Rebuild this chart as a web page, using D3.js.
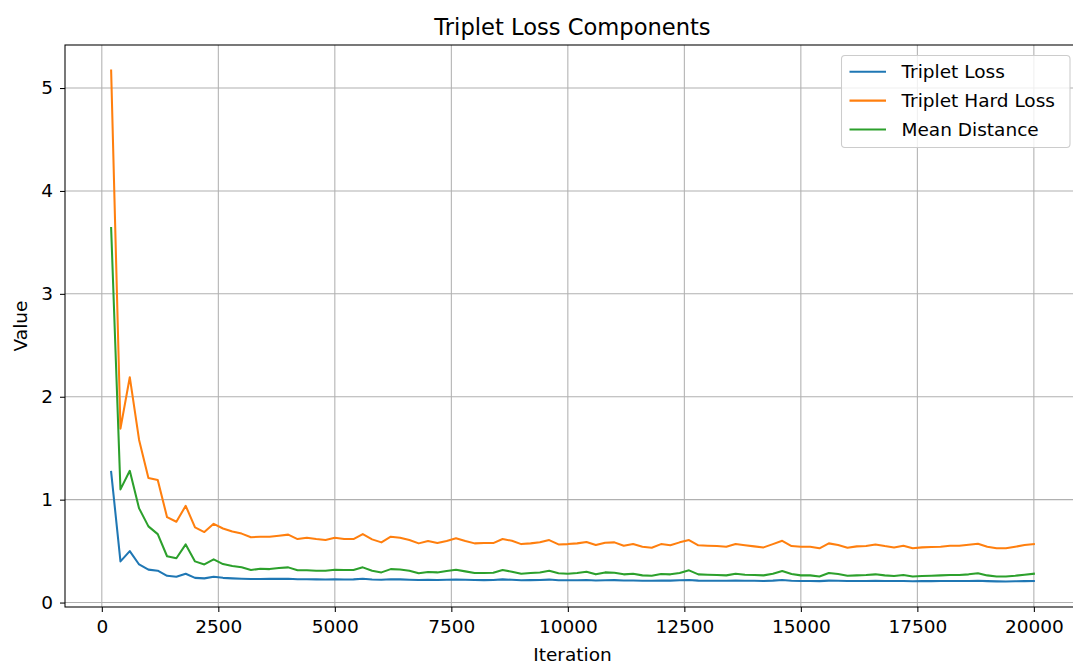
<!DOCTYPE html>
<html>
<head>
<meta charset="utf-8">
<script src="https://cdn.jsdelivr.net/npm/d3@7"></script>
<style>
  html, body { margin: 0; padding: 0; background: #fff; }
  svg { display: block; font-family: "DejaVu Sans", sans-serif; }
</style>
</head>
<body>
<svg id="chart" width="1073" height="664"></svg>
<script>
// Training iterations (logged every 200 steps)
const iterations = [
  200, 400, 600, 800, 1000, 1200, 1400, 1600, 1800, 2000,
  2200, 2400, 2600, 2800, 3000, 3200, 3400, 3600, 3800, 4000,
  4200, 4400, 4600, 4800, 5000, 5200, 5400, 5600, 5800, 6000,
  6200, 6400, 6600, 6800, 7000, 7200, 7400, 7600, 7800, 8000,
  8200, 8400, 8600, 8800, 9000, 9200, 9400, 9600, 9800, 10000,
  10200, 10400, 10600, 10800, 11000, 11200, 11400, 11600, 11800, 12000,
  12200, 12400, 12600, 12800, 13000, 13200, 13400, 13600, 13800, 14000,
  14200, 14400, 14600, 14800, 15000, 15200, 15400, 15600, 15800, 16000,
  16200, 16400, 16600, 16800, 17000, 17200, 17400, 17600, 17800, 18000,
  18200, 18400, 18600, 18800, 19000, 19200, 19400, 19600, 19800, 20000
];

const tripletLoss = [
  1.27, 0.40, 0.50, 0.37, 0.32, 0.31, 0.26, 0.25, 0.28, 0.24,
  0.235, 0.25, 0.24, 0.235, 0.232, 0.228, 0.228, 0.23, 0.23, 0.232,
  0.226, 0.226, 0.225, 0.224, 0.227, 0.224, 0.225, 0.231, 0.224, 0.221,
  0.226, 0.225, 0.222, 0.219, 0.221, 0.22, 0.222, 0.224, 0.221, 0.219,
  0.218, 0.219, 0.225, 0.221, 0.217, 0.218, 0.219, 0.223, 0.217, 0.216,
  0.217, 0.219, 0.215, 0.217, 0.218, 0.214, 0.215, 0.212, 0.211, 0.214,
  0.213, 0.216, 0.22, 0.213, 0.212, 0.211, 0.211, 0.213, 0.212, 0.211,
  0.21, 0.213, 0.219, 0.212, 0.21, 0.21, 0.208, 0.213, 0.211, 0.209,
  0.21, 0.21, 0.211, 0.21, 0.209, 0.21, 0.207, 0.208, 0.208, 0.209,
  0.209, 0.209, 0.21, 0.211, 0.208, 0.206, 0.205, 0.207, 0.208, 0.209
];

const tripletHardLoss = [
  5.17, 1.69, 2.19, 1.58, 1.21, 1.19, 0.83, 0.785, 0.94, 0.73,
  0.685, 0.765, 0.72, 0.69, 0.67, 0.635, 0.64, 0.64, 0.65, 0.66,
  0.617, 0.63, 0.617, 0.607, 0.63, 0.617, 0.617, 0.665, 0.614, 0.585,
  0.64, 0.63, 0.607, 0.575, 0.598, 0.578, 0.598, 0.624, 0.598, 0.575,
  0.578, 0.578, 0.617, 0.60, 0.568, 0.575, 0.585, 0.607, 0.565, 0.568,
  0.575, 0.588, 0.559, 0.581, 0.585, 0.552, 0.568, 0.542, 0.533, 0.568,
  0.556, 0.585, 0.607, 0.556, 0.552, 0.549, 0.542, 0.568, 0.556, 0.546,
  0.536, 0.568, 0.60, 0.549, 0.542, 0.542, 0.527, 0.575, 0.559, 0.533,
  0.546, 0.549, 0.565, 0.549, 0.536, 0.552, 0.527, 0.536, 0.539, 0.542,
  0.552, 0.552, 0.562, 0.571, 0.542, 0.527, 0.527, 0.542, 0.559, 0.568
];

const meanDistance = [
  3.64, 1.10, 1.28, 0.915, 0.74, 0.665, 0.45, 0.43, 0.565, 0.40,
  0.37, 0.42, 0.374, 0.355, 0.342, 0.316, 0.329, 0.325, 0.335, 0.342,
  0.313, 0.313, 0.309, 0.309, 0.319, 0.316, 0.316, 0.342, 0.309, 0.293,
  0.325, 0.322, 0.309, 0.284, 0.296, 0.293, 0.306, 0.319, 0.303, 0.287,
  0.287, 0.29, 0.316, 0.30, 0.28, 0.287, 0.293, 0.309, 0.284, 0.28,
  0.287, 0.30, 0.274, 0.293, 0.29, 0.274, 0.28, 0.264, 0.261, 0.277,
  0.274, 0.287, 0.313, 0.274, 0.271, 0.267, 0.264, 0.28, 0.271, 0.267,
  0.264, 0.28, 0.306, 0.277, 0.264, 0.264, 0.254, 0.287, 0.277, 0.261,
  0.264, 0.267, 0.274, 0.264, 0.258, 0.267, 0.254, 0.258, 0.261, 0.264,
  0.267, 0.267, 0.274, 0.284, 0.264, 0.254, 0.254, 0.261, 0.271, 0.28
];

const seriesNames = ["Triplet Loss", "Triplet Hard Loss", "Mean Distance"];
const seriesColors = ["#1f77b4", "#ff7f0e", "#2ca02c"];
const xTicks = [0, 2500, 5000, 7500, 10000, 12500, 15000, 17500, 20000];
const yTicks = [0, 1, 2, 3, 4, 5];

const series = [tripletLoss, tripletHardLoss, meanDistance].map((vals, i) => ({
  name: seriesNames[i],
  color: seriesColors[i],
  points: iterations.map((it, j) => ({ x: it, y: vals[j] }))
}));

// Plot box
const plotLeft = 65, plotRight = 1080, plotTop = 45, plotBottom = 607;

// Auto-limits with 5% padding on each side
const pad = (lo, hi) => { const m = (hi - lo) * 0.05; return [lo - m, hi + m]; };
const xExt = d3.extent(iterations);
const allY = [].concat(tripletLoss, tripletHardLoss, meanDistance);
const yExt = d3.extent(allY);

const x = d3.scaleLinear().domain(pad(xExt[0], xExt[1])).range([plotLeft, plotRight]);
const y = d3.scaleLinear().domain(pad(yExt[0], yExt[1])).range([plotBottom, plotTop]);

const svg = d3.select("#chart");
const fontSize = 18.5;

// Clip for the plotted data
svg.append("defs").append("clipPath").attr("id", "plotClip")
  .append("rect").attr("x", plotLeft).attr("y", plotTop)
  .attr("width", plotRight - plotLeft).attr("height", plotBottom - plotTop);

// Grid
const grid = svg.append("g").attr("stroke", "#b0b0b0").attr("stroke-width", 1.05);
grid.selectAll("line.gx").data(xTicks).join("line")
  .attr("class", "gx")
  .attr("x1", d => x(d)).attr("x2", d => x(d))
  .attr("y1", plotTop).attr("y2", plotBottom);
grid.selectAll("line.gy").data(yTicks).join("line")
  .attr("class", "gy")
  .attr("x1", plotLeft).attr("x2", plotRight)
  .attr("y1", d => y(d)).attr("y2", d => y(d));

// Axes
const xAxis = d3.axisBottom(x).tickValues(xTicks).tickSize(5).tickPadding(8).tickFormat(d3.format("d"));
const yAxis = d3.axisLeft(y).tickValues(yTicks).tickSize(5).tickPadding(7).tickFormat(d3.format("d"));

const gx = svg.append("g").attr("transform", `translate(0,${plotBottom})`).call(xAxis);
const gy = svg.append("g").attr("transform", `translate(${plotLeft},0)`).call(yAxis);
[gx, gy].forEach(g => {
  g.select(".domain").remove();
  g.selectAll(".tick line").attr("stroke", "#000").attr("stroke-width", 1.05);
  g.selectAll(".tick text").attr("fill", "#000")
    .style("font-family", "DejaVu Sans").style("font-size", fontSize + "px");
});

// Lines
const line = d3.line().x(d => x(d.x)).y(d => y(d.y));
svg.append("g").attr("clip-path", "url(#plotClip)")
  .selectAll("path").data(series).join("path")
  .attr("d", d => line(d.points))
  .attr("fill", "none")
  .attr("stroke", d => d.color)
  .attr("stroke-width", 2.05)
  .attr("stroke-linejoin", "round")
  .attr("stroke-linecap", "square");

// Frame
svg.append("rect")
  .attr("x", plotLeft).attr("y", plotTop)
  .attr("width", plotRight - plotLeft).attr("height", plotBottom - plotTop)
  .attr("fill", "none").attr("stroke", "#000").attr("stroke-width", 1.05);

// Title and axis labels
svg.append("text")
  .attr("x", (plotLeft + plotRight) / 2).attr("y", 35)
  .attr("text-anchor", "middle")
  .style("font-size", "22.6px").attr("fill", "#000")
  .text("Triplet Loss Components");

svg.append("text")
  .attr("x", (plotLeft + plotRight) / 2).attr("y", 661)
  .attr("text-anchor", "middle")
  .style("font-size", fontSize + "px").attr("fill", "#000")
  .text("Iteration");

svg.append("text")
  .attr("transform", `translate(27,${(plotTop + plotBottom) / 2}) rotate(-90)`)
  .attr("text-anchor", "middle")
  .style("font-size", fontSize + "px").attr("fill", "#000")
  .text("Value");

// Legend
const lg = svg.append("g");
const lgX = 841.5, lgY = 55.5, lgW = 228.5, lgH = 92;
lg.append("rect")
  .attr("x", lgX).attr("y", lgY).attr("width", lgW).attr("height", lgH)
  .attr("rx", 3.5).attr("ry", 3.5)
  .attr("fill", "#fff").attr("fill-opacity", 0.8)
  .attr("stroke", "#cccccc").attr("stroke-width", 1.05);
const rowY = [71.7, 100.6, 129.4];
const items = lg.selectAll("g.item").data(series).join("g")
  .attr("class", "item")
  .attr("transform", (d, i) => `translate(0,${rowY[i]})`);
items.append("line")
  .attr("x1", 849.5).attr("x2", 886)
  .attr("stroke", d => d.color).attr("stroke-width", 2.05);
items.append("text")
  .attr("x", 901.5).attr("dy", "0.36em")
  .style("font-size", fontSize + "px").attr("fill", "#000")
  .text(d => d.name);
</script>
</body>
</html>
